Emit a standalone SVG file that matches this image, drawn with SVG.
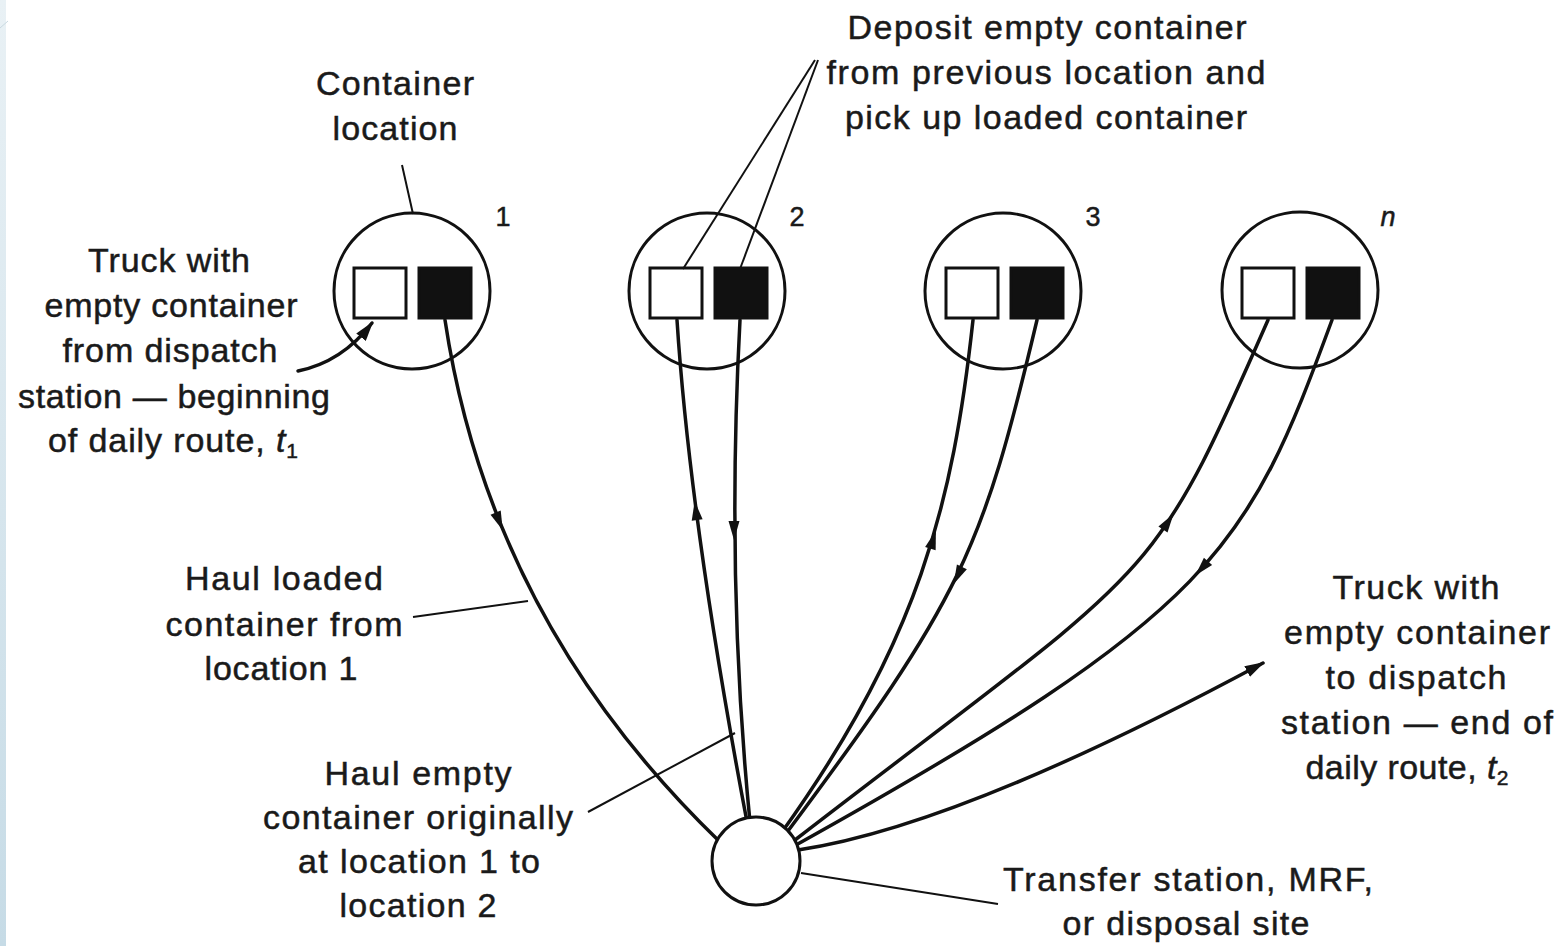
<svg xmlns="http://www.w3.org/2000/svg" xmlns:xlink="http://www.w3.org/1999/xlink" width="1563" height="946" viewBox="0 0 1563 946">
<style>
.conn{fill:none;stroke:#111;stroke-width:3.5;stroke-linecap:round}
.lead{fill:none;stroke:#111;stroke-width:2}
.loc{fill:#fff;stroke:#111;stroke-width:3}
.sqe{fill:#fff;stroke:#111;stroke-width:3}
.sqf{fill:#111;stroke:#111;stroke-width:3}
.ah{fill:#111}
text{font-family:"Liberation Sans",Arial,Helvetica,sans-serif;font-size:34px;fill:#1a1a1a;stroke:#1a1a1a;stroke-width:0.5;text-anchor:middle}
.num{font-size:27px}
.it{font-style:italic}
.sub{font-size:21px}
</style>
<defs>
<linearGradient id="strip" x1="0" y1="0" x2="0" y2="1">
<stop offset="0" stop-color="#e9f1f5"/>
<stop offset="1" stop-color="#c6dbe6"/>
</linearGradient>
<path id="ah" d="M 10 0 L -9 -5.5 L -9 5.5 Z"/>
<marker id="arr" viewBox="0 0 20 12" refX="18" refY="6" markerWidth="20" markerHeight="12" orient="auto" markerUnits="userSpaceOnUse">
<path d="M 0 0 L 20 6 L 0 12 Z" fill="#111"/>
</marker>
</defs>
<rect x="0" y="0" width="1563" height="946" fill="#fff"/>
<rect x="0" y="0" width="6" height="946" fill="url(#strip)"/>
<line x1="0" y1="28" x2="8" y2="21" stroke="#c8d8e0" stroke-width="1"/>

<g id="loc1">
<circle class="loc" cx="412" cy="291" r="78"/>
<rect class="sqe" x="354" y="268" width="52" height="50"/>
<rect class="sqf" x="419" y="268" width="52" height="50"/>
<text class="num" x="503" y="226">1</text>
</g>
<g id="loc2">
<circle class="loc" cx="707" cy="291" r="78"/>
<rect class="sqe" x="650" y="268" width="52" height="50"/>
<rect class="sqf" x="715" y="268" width="52" height="50"/>
<text class="num" x="797" y="226">2</text>
</g>
<g id="loc3">
<circle class="loc" cx="1003" cy="291" r="78"/>
<rect class="sqe" x="946" y="268" width="52" height="50"/>
<rect class="sqf" x="1011" y="268" width="52" height="50"/>
<text class="num" x="1093" y="226">3</text>
</g>
<g id="locn">
<circle class="loc" cx="1300" cy="290" r="78"/>
<rect class="sqe" x="1242" y="268" width="52" height="50"/>
<rect class="sqf" x="1307" y="268" width="52" height="50"/>
<text class="num it" x="1388" y="226">n</text>
</g>

<g id="connectors">
<path class="conn" d="M 445 320 Q 490 620 720 842"/>
<path class="conn" d="M 677 320 Q 690 521 747 822"/>
<path class="conn" d="M 740 320 Q 726 580 750 822"/>
<path class="conn" d="M 973 320 C 953 504, 918 643, 782 832"/>
<path class="conn" d="M 1037 320 C 982 552, 962 598, 785 835"/>
<path class="conn" d="M 1268 320 C 1147 596, 1159 559, 795 840"/>
<path class="conn" d="M 1332 320 C 1247 551, 1216 611, 796 845"/>
<path class="conn" d="M 798 850 Q 960 826 1263 663" stroke-linecap="butt" marker-end="url(#arr)"/>
<use href="#ah" class="ah" transform="translate(499 521) rotate(68)"/>
<use href="#ah" class="ah" transform="translate(696 511) rotate(-97.5)"/>
<use href="#ah" class="ah" transform="translate(734 530) rotate(90)"/>
<use href="#ah" class="ah" transform="translate(933 540) rotate(-73)"/>
<use href="#ah" class="ah" transform="translate(958 575) rotate(115.6)"/>
<use href="#ah" class="ah" transform="translate(1168 522) rotate(-56)"/>
<use href="#ah" class="ah" transform="translate(1202 568) rotate(132)"/>
<path class="conn" d="M 298 371 Q 342 362 372 323" stroke-width="4.5" stroke-linecap="butt" marker-end="url(#arr)"/>
<line class="lead" x1="402" y1="165" x2="413" y2="214"/>
<line class="lead" x1="815" y1="60" x2="683" y2="269"/>
<line class="lead" x1="818" y1="60" x2="740" y2="269"/>
<line class="lead" x1="413" y1="617" x2="528" y2="601"/>
<line class="lead" x1="588" y1="812" x2="735" y2="733"/>
<line class="lead" x1="801" y1="873" x2="998" y2="904"/>
</g>

<g id="site">
<circle class="loc" cx="756" cy="861" r="44"/>
</g>

<g id="label-container">
<text x="395" y="95" textLength="158">Container</text>
<text x="395" y="140" textLength="125">location</text>
</g>
<g id="label-deposit">
<text x="1047" y="39" textLength="399">Deposit empty container</text>
<text x="1046" y="84" textLength="439">from previous location and</text>
<text x="1046" y="129" textLength="402">pick up loaded container</text>
</g>
<g id="label-start">
<text x="169" y="272" textLength="162">Truck with</text>
<text x="171" y="317" textLength="253">empty container</text>
<text x="170" y="362" textLength="215">from dispatch</text>
<text x="174" y="408" textLength="312">station — beginning</text>
<text x="173" y="452" textLength="250">of daily route, <tspan class="it">t</tspan><tspan class="sub" dy="6">1</tspan></text>
</g>
<g id="label-haul-loaded">
<text x="284" y="590" textLength="198">Haul loaded</text>
<text x="284" y="636" textLength="237">container from</text>
<text x="281" y="680" textLength="153">location 1</text>
</g>
<g id="label-haul-empty">
<text x="418" y="785" textLength="187">Haul empty</text>
<text x="418" y="829" textLength="310">container originally</text>
<text x="419" y="873" textLength="242">at location 1 to</text>
<text x="418" y="917" textLength="157">location 2</text>
</g>
<g id="label-end">
<text x="1416" y="599" textLength="167">Truck with</text>
<text x="1417" y="644" textLength="266">empty container</text>
<text x="1416" y="689" textLength="181">to dispatch</text>
<text x="1417" y="734" textLength="272">station — end of</text>
<text x="1407" y="779" textLength="203">daily route, <tspan class="it">t</tspan><tspan class="sub" dy="6">2</tspan></text>
</g>
<g id="label-site">
<text x="1188" y="891" textLength="370">Transfer station, MRF,</text>
<text x="1186" y="935" textLength="247">or disposal site</text>
</g>
</svg>
